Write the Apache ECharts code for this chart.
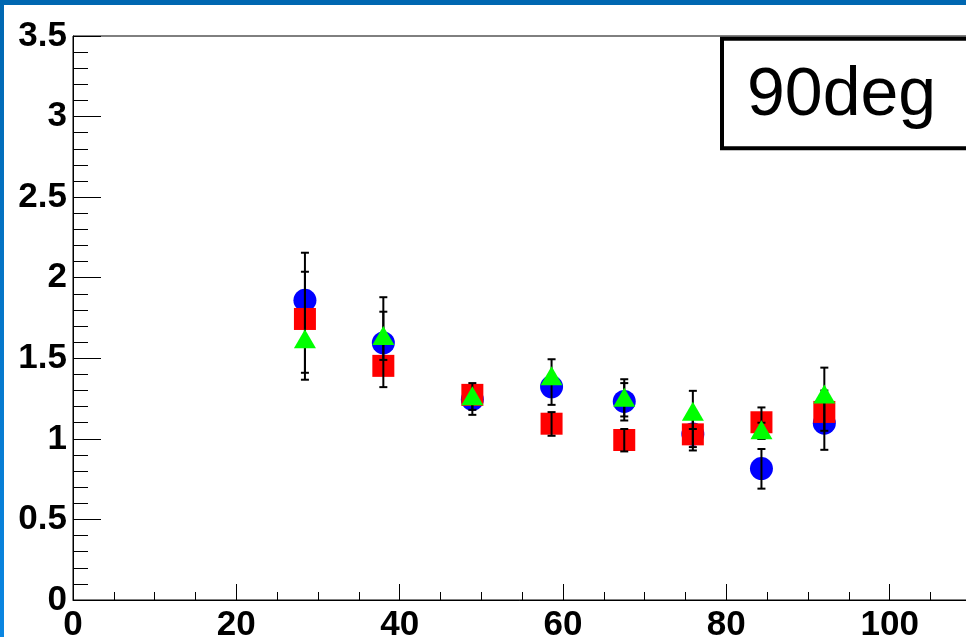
<!DOCTYPE html>
<html>
<head>
<meta charset="utf-8">
<script src="https://cdn.jsdelivr.net/npm/echarts@6/dist/echarts.min.js"></script>
<style>
html,body{margin:0;padding:0;background:#fff;}
#c{width:966px;height:637px;}
</style>
</head>
<body>
<div id="c"></div>
<script>
// ---- data ----
var xValues   = [28.4, 38.0, 48.9, 58.6, 67.5, 75.9, 84.3, 92.0];
var blueVals  = [1.860, 1.595, 1.245, 1.323, 1.232, 1.030, 0.816, 1.097];
var redVals   = [1.744, 1.453, 1.273, 1.094, 0.993, 1.028, 1.103, 1.167];
var greenVals = [1.622, 1.642, 1.267, 1.391, 1.258, 1.172, 1.056, 1.278];

var blueLow   = [1.367, 1.490, 1.149, 1.211, 1.114, 0.949, 0.691, 0.932];
var blueHigh  = [2.155, 1.789, 1.346, 1.494, 1.370, 1.160, 0.937, 1.260];
var redLow    = [1.410, 1.321, 1.180, 1.019, 0.922, 0.928, 1.000, 1.050];
var redHigh   = [2.037, 1.600, 1.260, 1.166, 1.061, 1.150, 1.195, 1.300];
var greenLow  = [null, 1.620, null, null, 1.139, 1.061, 1.000, 1.250];
var greenHigh = [null, 1.879, null, null, 1.346, 1.298, 1.100, 1.442];

var yTicks = ['0', '0.5', '1', '1.5', '2', '2.5', '3', '3.5'];
var labelText = '90deg';

function pts(vals) { return vals.map(function (v, i) { return [xValues[i], v]; }); }
function errs(lo, hi) {
  var out = [];
  for (var i = 0; i < xValues.length; i++) {
    if (lo[i] != null && hi[i] != null) out.push([xValues[i], lo[i], hi[i]]);
  }
  return out;
}
var errData = errs(blueLow, blueHigh).concat(errs(redLow, redHigh)).concat(errs(greenLow, greenHigh));

var chart = echarts.init(document.getElementById('c'), null, {renderer: 'canvas'});
var labelFont = {fontFamily: 'Liberation Sans', fontWeight: 'bold', fontSize: 35, color: '#000'};

chart.setOption({
  animation: false,
  backgroundColor: '#fff',
  grid: {left: 73, right: -87, top: 36, bottom: 37, show: true, borderColor: '#000', borderWidth: 1,
         backgroundColor: '#fff', containLabel: false, outerBoundsMode: 'none'},
  xAxis: {
    type: 'value', min: 0, max: 120, interval: 20,
    axisLine: {lineStyle: {color: '#000', width: 1}},
    axisTick: {inside: true, length: 16, lineStyle: {color: '#000', width: 1}},
    minorTick: {show: true, splitNumber: 4, length: 8, lineStyle: {color: '#000', width: 1}},
    splitLine: {show: false},
    axisLabel: Object.assign({margin: 8, hideOverlap: false}, labelFont)
  },
  yAxis: {
    type: 'value', min: 0, max: 3.5, interval: 0.5,
    axisLine: {lineStyle: {color: '#000', width: 1}},
    axisTick: {inside: true, length: 28, lineStyle: {color: '#000', width: 1}},
    minorTick: {show: true, splitNumber: 5, length: 15, lineStyle: {color: '#000', width: 1}},
    splitLine: {show: false},
    axisLabel: Object.assign({margin: 6, hideOverlap: false, formatter: function (v) {
      var idx = Math.round(v / 0.5);
      return yTicks[idx] !== undefined ? yTicks[idx] : '';
    }}, labelFont)
  },
  series: [
    {type: 'scatter', name: 'blue', data: pts(blueVals), symbol: 'circle', symbolSize: 23,
     itemStyle: {color: '#0000ff', opacity: 1}, z: 2},
    {type: 'scatter', name: 'red', data: pts(redVals), symbol: 'rect', symbolSize: 22,
     itemStyle: {color: '#ff0000', opacity: 1}, z: 3},
    {type: 'custom', name: 'errors', data: errData, z: 4,
     renderItem: function (params, api) {
       var x = api.value(0), lo = api.value(1), hi = api.value(2);
       var p1 = api.coord([x, lo]), p2 = api.coord([x, hi]);
       var cw = 4;
       var st = {stroke: '#000', lineWidth: 2};
       return {type: 'group', children: [
         {type: 'line', shape: {x1: p1[0], y1: p1[1], x2: p2[0], y2: p2[1]}, style: st},
         {type: 'line', shape: {x1: p1[0] - cw, y1: p1[1], x2: p1[0] + cw, y2: p1[1]}, style: st},
         {type: 'line', shape: {x1: p2[0] - cw, y1: p2[1], x2: p2[0] + cw, y2: p2[1]}, style: st}
       ]};
     }},
    {type: 'scatter', name: 'green', data: pts(greenVals), symbol: 'triangle', symbolSize: [22, 19],
     itemStyle: {color: '#00ff00', opacity: 1}, z: 5}
  ],
  graphic: [
    {type: 'rect', shape: {x: 0, y: 0, width: 966, height: 5}, style: {fill: '#0067b1'}, z: 100},
    {type: 'rect', shape: {x: 0, y: 0, width: 4, height: 637},
     style: {fill: new echarts.graphic.LinearGradient(0, 0, 0, 1, [
       {offset: 0, color: '#0067b1'}, {offset: 1, color: '#0a86e2'}])}, z: 100},
    {type: 'rect', shape: {x: 722, y: 38.7, width: 300, height: 109.6},
     style: {fill: '#fff', stroke: '#000', lineWidth: 4}, z: 50},
    {type: 'text', x: 747, y: 96, style: {text: labelText, fontFamily: 'Liberation Sans', fontSize: 68,
      fill: '#000', align: 'left', verticalAlign: 'middle'}, z: 51}
  ]
});
</script>
</body>
</html>
